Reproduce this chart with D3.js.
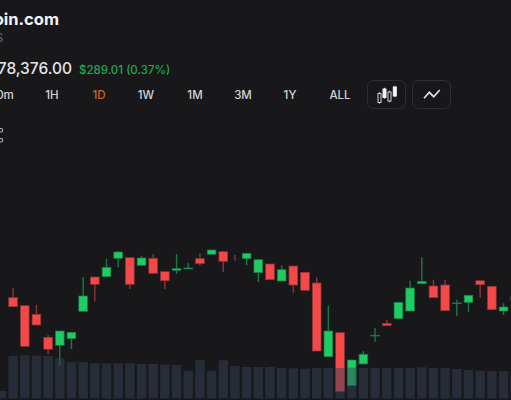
<!DOCTYPE html>
<html>
<head>
<meta charset="utf-8">
<script src="https://cdnjs.cloudflare.com/ajax/libs/d3/7.8.5/d3.min.js"></script>
<style>
html,body{margin:0;padding:0;background:#18181b;overflow:hidden}
svg{display:block}
text{font-family:Inter,"Noto Sans",sans-serif}
</style>
</head>
<body>
<svg id="c" width="511" height="400"></svg>
<script>
const tabs = ["0m","1H","1D","1W","1M","3M","1Y","ALL"];
const slots = d3.range(0,45);
const opens  = [null,78092,77772,77428,76508,76188,76452,77548,78920,78932,79668,79692,79388,79668,79132,79188,79240,79652,79828,79932,79680,79652,79092,79440,78760,79360,79108,78680,75732,76692,74572,75440,76560,77068,77252,77560,78652,78560,78600,77852,77908,78772,78548,77560,78000];
const highs  = [null,78468,77772,77800,76600,76760,76708,78920,78920,79640,79960,79692,79772,79840,79132,79840,79480,79868,80000,79932,79800,79868,79612,79440,79388,79360,79108,78908,77772,76692,75600,75960,76880,77200,77908,78772,79708,78812,78800,78012,78188,78772,78548,77868,78132];
const lows   = [null,77732,76148,77000,75828,75372,76040,77548,77948,78932,79308,78440,79388,79068,78440,79040,79240,79388,79828,79132,79572,79388,78720,78812,78760,78292,78388,75960,75732,74348,74572,75440,76332,76972,77252,77560,78652,78092,77572,77360,77532,78092,77612,77400,78000];
const closes = [null,77732,76148,77000,76028,76760,76708,78160,78628,79308,79920,78628,79680,79068,78772,79252,79280,79452,80000,79548,79680,79868,79612,78812,79212,78600,78388,75960,76760,74348,75600,75828,76588,76972,77908,78480,78748,78092,77572,77880,78188,78612,77612,77720,78132];
const volumes = [75,425,432,428,425,402,365,365,352,352,352,352,345,345,338,335,278,385,278,382,325,315,315,315,305,302,298,305,305,305,308,305,305,305,305,305,312,305,305,295,285,278,275,272,270];

const bg = "#18181b", up = "#1fcb63", down = "#f54848", upWick = "#1a7a42", downWick = "#8c3535";

const svg = d3.select("#c");
svg.append("rect").attr("width",511).attr("height",400).attr("fill",bg);

const x = d3.scaleLinear().domain([0,44]).range([1.4,515.2]);
const y = d3.scaleLinear().domain([74000,90000]).range([400,0]);
const v = d3.scaleLinear().domain([0,500]).range([398.5,348.5]);
const bw = 9.4;

const idx = slots.filter(i => opens[i] !== null);
const isUp = i => closes[i] >= opens[i] && i !== 20;

svg.append("g").selectAll("line").data(idx).join("line")
  .attr("x1",x).attr("x2",x)
  .attr("y1",i=>y(highs[i])).attr("y2",i=>y(lows[i]))
  .attr("stroke",i=>isUp(i)?upWick:downWick).attr("stroke-width",1.4);

svg.append("g").selectAll("rect").data(idx.filter(i=>opens[i]!==closes[i] && i!==20)).join("rect")
  .attr("x",i=>x(i)-(bw-0.7)/2).attr("width",bw-0.7)
  .attr("y",i=>y(Math.max(opens[i],closes[i])))
  .attr("height",i=>Math.abs(y(opens[i])-y(closes[i])))
  .attr("fill",i=>isUp(i)?up:down)
  .attr("stroke",i=>isUp(i)?upWick:downWick).attr("stroke-width",0.7);

svg.append("g").selectAll("rect").data(slots).join("rect")
  .attr("x",i=>x(i)-bw/2).attr("width",bw)
  .attr("y",i=>v(volumes[i]))
  .attr("height",i=>v(0)-v(volumes[i]))
  .attr("fill","#344257").attr("fill-opacity",0.5);

// header
svg.append("text").attr("x",59).attr("y",25).attr("text-anchor","end")
  .attr("font-size",16.5).attr("font-weight",700).attr("fill","#f4f4f5").text("oin.com");
svg.append("text").attr("x",-4.5).attr("y",42)
  .attr("font-size",12).attr("fill","#71717a").text("S");
svg.append("text").attr("x",72).attr("y",73.5).attr("text-anchor","end")
  .attr("font-size",15.5).attr("font-weight",500).attr("fill","#e4e4e7").text("78,376.00");
svg.append("text").attr("x",79).attr("y",73.5)
  .attr("font-size",11.5).attr("font-weight",500).attr("fill","#22a64f").text("$289.01 (0.37%)");

const tabX = [5,52,99,146,195,243,290,340];
svg.append("g").selectAll("text").data(tabs).join("text")
  .attr("x",(d,i)=>tabX[i]).attr("y",99).attr("text-anchor","middle")
  .attr("font-size",11.5).attr("font-weight",500)
  .attr("fill",d=>d==="1D"?"#c96a17":"#d4d4d8").text(d=>d);

// buttons
[[367.5,80.5],[412.5,80.5]].forEach(p=>{
  svg.append("rect").attr("x",p[0]).attr("y",p[1]).attr("width",38).attr("height",28)
    .attr("rx",6).attr("fill","none").attr("stroke","#2e2e33");
});
// candle icon
[[378,93.5,9,false],[383,89,8.5,true],[388,92,9,false],[393.3,87,9,true]].forEach(c=>{
  svg.append("line").attr("x1",c[0]+1.5).attr("x2",c[0]+1.5).attr("y1",c[1]-1.2).attr("y2",c[1]+c[2]+1.2)
    .attr("stroke","#d4d4d8");
  svg.append("rect").attr("x",c[0]).attr("y",c[1]).attr("width",3).attr("height",c[2])
    .attr("fill",c[3]?"#f4f4f5":bg).attr("stroke",c[3]?"#f4f4f5":"#d4d4d8");
});
// line icon
svg.append("path").attr("d","M424 98.3L429.3 92.3L433.7 96.7L439.7 90")
  .attr("fill","none").attr("stroke","#e4e4e7").attr("stroke-width",1.7);

// cropped tool icon at left edge
[128.5,138.5].forEach(t=>{
  svg.append("rect").attr("x",-3).attr("y",t).attr("width",5.5).attr("height",3.5).attr("rx",1.2)
    .attr("fill","none").attr("stroke","#b4b4b8").attr("stroke-width",1.1);
});
</script>
</body>
</html>
